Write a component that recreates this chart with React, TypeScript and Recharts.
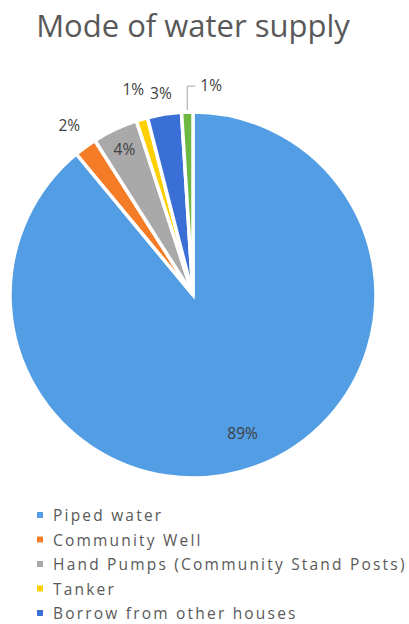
import { PieChart, Pie, Cell } from 'recharts';

const categories = [
  'Piped water',
  'Community Well',
  'Hand Pumps (Community Stand Posts)',
  'Tanker',
  'Borrow from other houses',
  'Other',
];
const shares = [89, 2, 4, 1, 3, 1];
const legendCount = 5; // the last slice has no legend entry in the source

const colors = ['#529DE3', '#F47C27', '#A9A9A9', '#FFD000', '#3A6FD6', '#6DB843'];
const labelRadius = [0.8, 1.15, 0.88, 1.17, 1.12, 1];

const data = categories.map((name, i) => ({ name, value: shares[i] }));

const FONT = '"Open Sans", sans-serif';
const RAD = Math.PI / 180;

const renderLabel = (p: any) => {
  const { cx, cy, midAngle, outerRadius, index, value } = p;
  const cos = Math.cos(-midAngle * RAD);
  const sin = Math.sin(-midAngle * RAD);
  if (index === 5) {
    const x0 = cx + outerRadius * cos;
    const y0 = cy + outerRadius * sin;
    return (
      <g>
        <polyline
          points={`${x0},${y0 - 2} ${x0},${y0 - 26} ${x0 + 8},${y0 - 26}`}
          fill="none"
          stroke="#A6A6A6"
          strokeWidth={1}
        />
        <text x={x0 + 13} y={y0 - 27} dominantBaseline="central" fontSize={15.5} fill="#404040" fontFamily={FONT}>
          {value}%
        </text>
      </g>
    );
  }
  const r = outerRadius * labelRadius[index];
  return (
    <text
      x={cx + r * cos}
      y={cy + r * sin}
      textAnchor="middle"
      dominantBaseline="central"
      fontSize={15.5}
      fill="#404040"
      fontFamily={FONT}
    >
      {value}%
    </text>
  );
};

export default function App() {
  return (
    <div style={{ position: 'absolute', left: 0, top: 0, width: 409, height: 624, background: '#fff' }}>
      <PieChart width={409} height={624} margin={{ top: 0, right: 0, bottom: 0, left: 0 }}>
        <text x={193} y={37} textAnchor="middle" fontSize={31} fill="#595959" fontFamily={FONT}>
          Mode of water supply
        </text>
        <Pie
          data={data}
          dataKey="value"
          nameKey="name"
          cx={193}
          cy={295}
          outerRadius={183}
          startAngle={90}
          endAngle={-270}
          stroke="#fff"
          strokeWidth={3.5}
          label={renderLabel}
          labelLine={false}
          isAnimationActive={false}
        >
          {data.map((d, i) => (
            <Cell key={d.name} fill={colors[i]} />
          ))}
        </Pie>
        {categories.slice(0, legendCount).map((name, i) => (
          <g key={name}>
            <rect x={37} y={515 + i * 24.5 - 3} width={6} height={6} fill={colors[i]} />
            <text
              x={53}
              y={515 + i * 24.5}
              dominantBaseline="central"
              fontSize={15.5}
              letterSpacing={2.2}
              fill="#595959"
              fontFamily={FONT}
            >
              {name}
            </text>
          </g>
        ))}
      </PieChart>
    </div>
  );
}
